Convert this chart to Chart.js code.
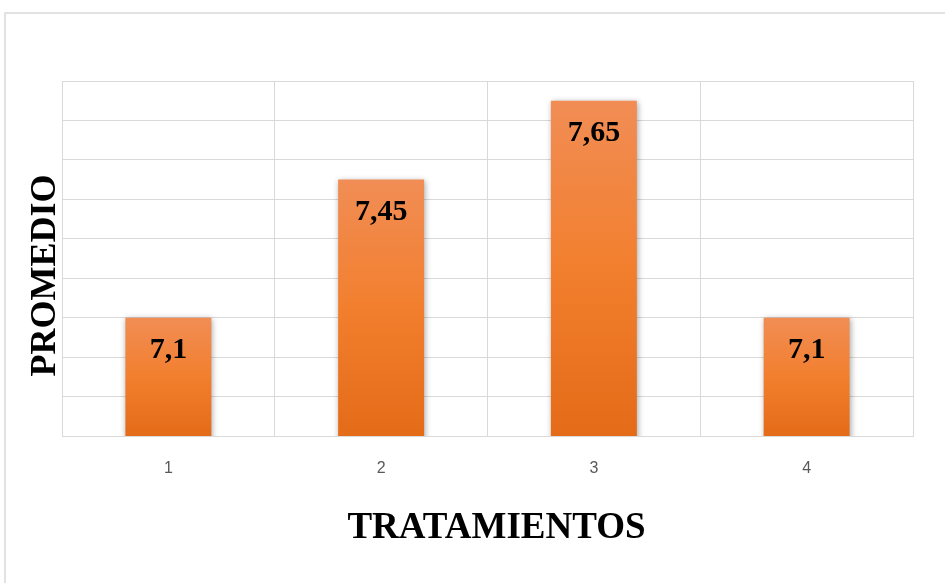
<!DOCTYPE html>
<html>
<head>
<meta charset="utf-8">
<script src="https://cdn.jsdelivr.net/npm/chart.js@4"></script>
<style>
  html, body { margin: 0; padding: 0; background: #fff; }
  #wrap { width: 945px; height: 583px; position: relative; }
</style>
</head>
<body>
<div id="wrap"><canvas id="promedioChart"></canvas></div>
<script>
// data
const tratamientos = ["1", "2", "3", "4"];
const promedios = [7.1, 7.45, 7.65, 7.1];
const yMin = 6.8;
const yMax = 7.7;
const yStep = 0.1;

const GRID = "#d9d9d9";
const SERIF = "'Liberation Serif', 'Times New Roman', serif";

// per-bar vertical gradient, from the bar top down to the axis base
function barGradient(context) {
    const chart = context.chart;
    if (!chart.chartArea) return "#f07e2d";
    const y = chart.scales.y;
    const top = y.getPixelForValue(context.raw);
    const base = y.getPixelForValue(yMin);
    const g = chart.ctx.createLinearGradient(0, top, 0, base);
    g.addColorStop(0, "#f18d55");
    g.addColorStop(0.5, "#f27f2e");
    g.addColorStop(1, "#e46b18");
    return g;
}

// outer frame of the chart box + both axis titles (slightly off the plot centre, like the original)
const framePlugin = {
    id: "frame",
    beforeDraw(chart) {
        const ctx = chart.ctx;
        ctx.save();
        ctx.strokeStyle = GRID;
        ctx.lineWidth = 1.5;
        ctx.strokeRect(5, 13, 1000, 1000);
        ctx.restore();
    },
    afterDraw(chart) {
        const ctx = chart.ctx;
        const area = chart.chartArea;
        ctx.save();
        ctx.fillStyle = "#000";
        ctx.textAlign = "center";
        ctx.textBaseline = "middle";

        ctx.font = "bold 37px " + SERIF;
        ctx.fillText("TRATAMIENTOS", (area.left + area.right) / 2 + 9, area.bottom + 92);

        ctx.translate(area.left - 16, (area.top + area.bottom) / 2 + 17);
        ctx.rotate(-Math.PI / 2);
        ctx.font = "bold 36px " + SERIF;
        ctx.fillText("PROMEDIO", 0, 0);
        ctx.restore();
    }
};

// soft shadow behind the bars
const shadowPlugin = {
    id: "barShadow",
    beforeDatasetsDraw(chart) {
        const ctx = chart.ctx;
        ctx.save();
        ctx.shadowColor = "rgba(0,0,0,0.35)";
        ctx.shadowBlur = 6;
        ctx.shadowOffsetX = 1;
        ctx.shadowOffsetY = 1;
    },
    afterDatasetsDraw(chart) {
        chart.ctx.restore();
    }
};

// value labels inside the top of each bar, with decimal comma
const labelPlugin = {
    id: "valueLabels",
    afterDatasetsDraw(chart) {
        const ctx = chart.ctx;
        const meta = chart.getDatasetMeta(0);
        ctx.save();
        ctx.font = "bold 30px " + SERIF;
        ctx.fillStyle = "#000";
        ctx.textAlign = "center";
        ctx.textBaseline = "middle";
        meta.data.forEach((bar, i) => {
            const txt = String(promedios[i]).replace(".", ",");
            ctx.fillText(txt, bar.x, bar.y + 33);
        });
        ctx.restore();
    }
};

new Chart(document.getElementById("promedioChart"), {
    type: "bar",
    data: {
        labels: tratamientos,
        datasets: [{
            data: promedios,
            backgroundColor: barGradient,
            borderWidth: 0,
            categoryPercentage: 1,
            barPercentage: 0.404
        }]
    },
    options: {
        responsive: true,
        maintainAspectRatio: false,
        animation: false,
        layout: { padding: { top: 81, right: 32, bottom: 0, left: 0 } },
        plugins: {
            legend: { display: false },
            tooltip: { enabled: false }
        },
        scales: {
            x: {
                grid: { color: GRID, lineWidth: 1, offset: true, drawTicks: false },
                border: { color: GRID, width: 1 },
                ticks: {
                    color: "#595959",
                    padding: 23,
                    font: { family: "'Liberation Sans', Arial, sans-serif", size: 16 }
                },
                afterFit(scale) { scale.height = 147; }
            },
            y: {
                min: yMin,
                max: yMax,
                grid: { color: GRID, lineWidth: 1, drawTicks: false },
                border: { color: GRID, width: 1 },
                ticks: { display: false, stepSize: yStep },
                afterFit(scale) { scale.width = 62; }
            }
        }
    },
    plugins: [framePlugin, shadowPlugin, labelPlugin]
});
</script>
</body>
</html>
